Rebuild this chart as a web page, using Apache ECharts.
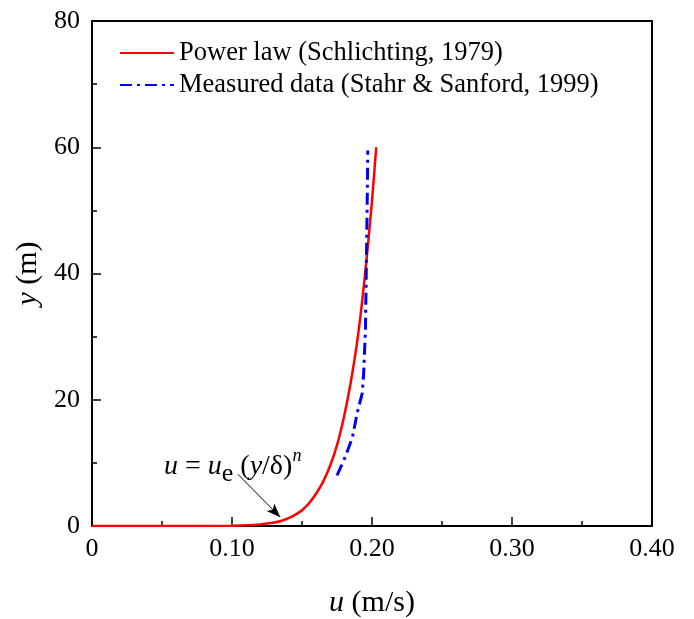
<!DOCTYPE html>
<html>
<head>
<meta charset="utf-8">
<script src="https://cdn.jsdelivr.net/npm/echarts@6/dist/echarts.min.js"></script>
<style>
  html, body { margin: 0; padding: 0; background: #fff; }
  #main { width: 694px; height: 619px; }
</style>
</head>
<body>
<div id="main"></div>
<script>
// values: [u (m/s), y (m)]
var powerLaw = [
  [0, 0], [0.05, 0], [0.10, 0.05], [0.11, 0.1], [0.12, 0.25], [0.13, 0.55],
  [0.135, 0.8], [0.14, 1.2], [0.145, 1.75], [0.15, 2.5], [0.155, 3.6],
  [0.16, 5.1], [0.165, 7.0], [0.17, 9.5], [0.175, 12.8], [0.18, 17.3],
  [0.185, 23], [0.19, 30.2], [0.195, 39.8], [0.20, 51.5], [0.203, 60]
];
var measured = [
  [0.175, 8], [0.181, 11], [0.186, 14], [0.1895, 18], [0.193, 21],
  [0.194, 24], [0.1953, 31], [0.196, 41.7], [0.1965, 50], [0.197, 59.5]
];
var seriesNames = ['Power law (Schlichting, 1979)', 'Measured data (Stahr & Sanford, 1999)'];
// arrow of the annotation, from under the formula to the curve
var arrowFrom = [0.1042, 8.2];
var arrowTo = [0.1345, 1.4];

var FONT = "'Liberation Serif', 'Times New Roman', serif";

var chart = echarts.init(document.getElementById('main'), null, { renderer: 'canvas' });

var option = {
  backgroundColor: '#fff',
  animation: false,
  grid: {
    left: 92, right: 42, top: 21, bottom: 93,
    show: true, borderColor: '#000', borderWidth: 2,
    outerBoundsMode: 'none'
  },
  legend: {
    orient: 'vertical',
    left: 114, top: 33,
    itemWidth: 54, itemHeight: 14, itemGap: 2,
    itemStyle: { opacity: 0 },
    textStyle: { fontFamily: FONT, fontSize: 26.5, color: '#000', lineHeight: 30 },
    data: seriesNames
  },
  xAxis: {
    type: 'value', min: 0, max: 0.4, interval: 0.1,
    name: '{i|u} (m/s)', nameLocation: 'middle', nameGap: 62,
    nameTextStyle: {
      fontFamily: FONT, fontSize: 30, color: '#000',
      rich: { i: { fontFamily: FONT, fontSize: 30, fontStyle: 'italic', color: '#000' } }
    },
    axisLine: { lineStyle: { color: '#000', width: 2 } },
    axisTick: { inside: true, length: 9, lineStyle: { color: '#000', width: 1.5 } },
    minorTick: { show: true, splitNumber: 2, length: 5, lineStyle: { color: '#000', width: 1.5 } },
    splitLine: { show: false },
    axisLabel: {
      fontFamily: FONT, fontSize: 26, color: '#000', margin: 10,
      formatter: function (v) { return v === 0 ? '0' : v.toFixed(2); }
    }
  },
  yAxis: {
    type: 'value', min: 0, max: 80, interval: 20,
    name: '{i|y} (m)', nameLocation: 'middle', nameGap: 44,
    nameTextStyle: {
      fontFamily: FONT, fontSize: 30, color: '#000',
      rich: { i: { fontFamily: FONT, fontSize: 30, fontStyle: 'italic', color: '#000' } }
    },
    axisLine: { lineStyle: { color: '#000', width: 2 } },
    axisTick: { inside: true, length: 9, lineStyle: { color: '#000', width: 1.5 } },
    minorTick: { show: true, splitNumber: 2, length: 5, lineStyle: { color: '#000', width: 1.5 } },
    splitLine: { show: false },
    axisLabel: { fontFamily: FONT, fontSize: 26, color: '#000', margin: 12 }
  },
  series: [
    {
      name: seriesNames[0], type: 'line', data: powerLaw,
      showSymbol: false, symbol: 'none', smooth: 0.3,
      lineStyle: { color: '#ff0000', width: 2.5 },
      itemStyle: { color: '#ff0000' },
      markLine: {
        silent: true, symbol: ['none', 'arrow'], symbolSize: [8, 14],
        label: { show: false },
        lineStyle: { color: '#000', width: 1, type: 'solid' },
        data: [[{ coord: arrowFrom }, { coord: arrowTo }]]
      }
    },
    {
      name: seriesNames[1], type: 'line', data: measured,
      showSymbol: false, symbol: 'none',
      lineStyle: { color: '#0000ee', width: 3, type: [12, 5, 3, 5] },
      itemStyle: { color: '#0000ee' }
    }
  ],
  graphic: [
    {
      type: 'text', left: 164, top: 447, silent: true,
      style: {
        text: '{i|u}{m| = }{i|u}{sub|e}{m| (}{i|y}{m|/δ)}{sup|n}',
        fill: '#000',
        rich: {
          i: { fontFamily: FONT, fontSize: 28, fontStyle: 'italic', lineHeight: 40, verticalAlign: 'middle' },
          m: { fontFamily: FONT, fontSize: 28, lineHeight: 40, verticalAlign: 'middle' },
          sub: { fontFamily: FONT, fontSize: 26, lineHeight: 26, verticalAlign: 'bottom' },
          sup: { fontFamily: FONT, fontSize: 18, fontStyle: 'italic', lineHeight: 18, verticalAlign: 'top' }
        }
      }
    }
  ]
};

chart.setOption(option);
</script>
</body>
</html>
